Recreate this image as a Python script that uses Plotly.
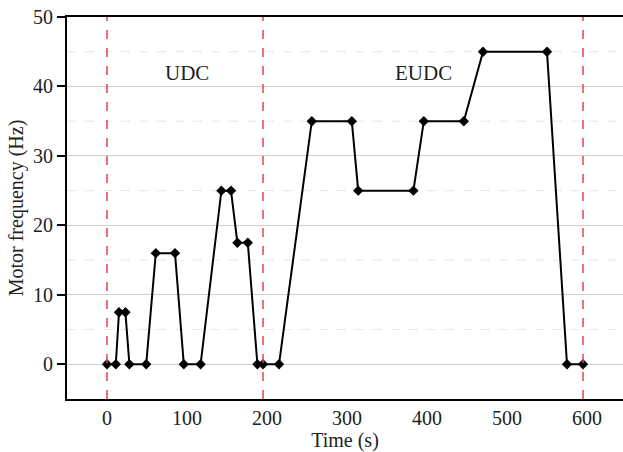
import plotly.graph_objects as go

# Data
time_s = [0, 11, 15, 23, 28, 49, 61, 85, 96, 117, 143, 155, 163, 176, 188, 195,
          215, 256, 306, 314, 383, 396, 446, 470, 550, 575, 595]
freq_hz = [0, 0, 7.5, 7.5, 0, 0, 16, 16, 0, 0, 25, 25, 17.5, 17.5, 0, 0,
           0, 35, 35, 25, 25, 35, 35, 45, 45, 0, 0]
boundaries = [0, 195, 595]
phase_labels = ["UDC", "EUDC"]
phase_label_x = [100, 395]
phase_label_y = [42, 42]
x_ticks = [0, 100, 200, 300, 400, 500, 600]
y_ticks = [0, 10, 20, 30, 40, 50]
minor_y = [5, 15, 25, 35, 45]

FONT = "Liberation Serif"

fig = go.Figure()

# faint minor gridlines
for yv in minor_y:
    fig.add_shape(type="line", xref="paper", x0=0, x1=1, yref="y", y0=yv, y1=yv,
                  line=dict(color="#e6e6e6", width=1, dash="dash"), layer="below")

# red dashed phase boundaries
for xv in boundaries:
    fig.add_shape(type="line", xref="x", x0=xv, x1=xv, yref="paper", y0=0, y1=1,
                  line=dict(color="#e6404f", width=1.5, dash="dash"), layer="above")

fig.add_trace(go.Scatter(
    x=time_s, y=freq_hz, mode="lines+markers",
    line=dict(color="black", width=2),
    marker=dict(symbol="diamond", size=8, color="black"),
    showlegend=False,
))

for txt, xv, yv in zip(phase_labels, phase_label_x, phase_label_y):
    fig.add_annotation(x=xv, y=yv, text=txt, showarrow=False,
                       font=dict(family=FONT, size=21, color="#222222"))

fig.update_layout(
    width=623, height=452,
    margin=dict(l=67, r=0, t=17, b=53, autoexpand=False),
    paper_bgcolor="white", plot_bgcolor="white",
    font=dict(family=FONT, size=20, color="#222222"),
)

fig.update_xaxes(
    range=[-50, 645], tickvals=x_ticks, ticks="", showgrid=False, zeroline=False,
    showline=True, linecolor="black", linewidth=2, mirror=True, automargin=False,
    title=dict(text="Time (s)", standoff=0, font=dict(family=FONT, size=20)),
    tickfont=dict(family=FONT, size=20),
)
fig.update_yaxes(
    range=[-5, 50], tickvals=y_ticks, ticks="outside", ticklen=8, tickwidth=1.5,
    tickcolor="black", showgrid=True, gridcolor="#cfcfcf", gridwidth=1,
    zeroline=False, showline=True, linecolor="black", linewidth=2, automargin=False,
    title=dict(text="Motor frequency (Hz)", standoff=4, font=dict(family=FONT, size=20)),
    tickfont=dict(family=FONT, size=20),
)

fig.write_html("out.html", config={"displayModeBar": False},
               post_script="document.body.style.margin='0';document.body.style.overflow='hidden';")
